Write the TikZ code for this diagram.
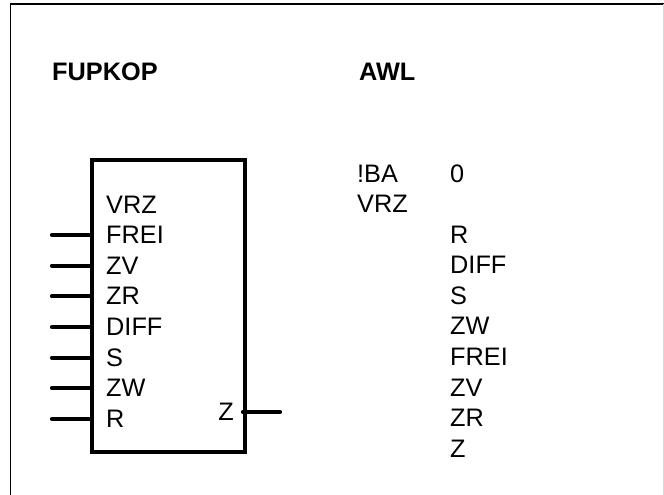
\documentclass[tikz,border=0pt]{standalone}
\usepackage{fontspec}
\setmainfont{Liberation Sans}
\begin{document}
\begin{tikzpicture}[x=1pt,y=-1pt,
  lbl/.style={anchor=base west,inner sep=0pt,font=\fontsize{25.3}{30}\selectfont},
  head/.style={anchor=base west,inner sep=0pt,font=\fontsize{25.3}{30}\selectfont\bfseries},
  blk/.style={draw,line width=4.2pt,line join=miter},
  pin/.style={line width=4.2pt,line cap=round}]
\useasboundingbox (0,0) rectangle (664,495);
% frame
\draw[line width=2pt] (10,4.5) -- (664,4.5);
\draw[line width=1.3pt] (10.5,4) -- (10.5,495);
\draw[line width=1pt,black!15] (663.5,4) -- (663.5,495);
% headings
\node[head] (h1) at (52,81) {FUPKOP};
\node[head] (h2) at (359,81) {AWL};
% block
\node[blk,minimum width=153pt,minimum height=292pt,anchor=north west,inner sep=0pt] (box) at (90,158) {};
\node[lbl] (lvrz) at (106,213) {VRZ};
\foreach \t [count=\i from 0] in {FREI,ZV,ZR,DIFF,S,ZW,R}{
  \pgfmathsetmacro{\yy}{235+30.65*\i}
  \coordinate (p\i) at (52,\yy);
  \coordinate (q\i) at (90,\yy);
  \draw[pin] (p\i) -- (q\i);
  \node[lbl] (l\i) at (106,\yy+8.5) {\t};
}
\coordinate (zin) at (243,412);
\coordinate (zout) at (280,412);
\draw[pin] (zin) -- (zout);
\node[lbl,anchor=base east] (lz) at (234,420.5) {Z};
% AWL
\node[lbl] (a1) at (357,182) {!BA};
\node[lbl] (a1b) at (450,182) {0};
\node[lbl] (a2) at (357,212.5) {VRZ};
\foreach \t [count=\i from 0] in {R,DIFF,S,ZW,FREI,ZV,ZR,Z}{
  \pgfmathsetmacro{\yy}{243+30.6*\i}
  \node[lbl] (b\i) at (450,\yy) {\t};
}
\end{tikzpicture}
\end{document}
